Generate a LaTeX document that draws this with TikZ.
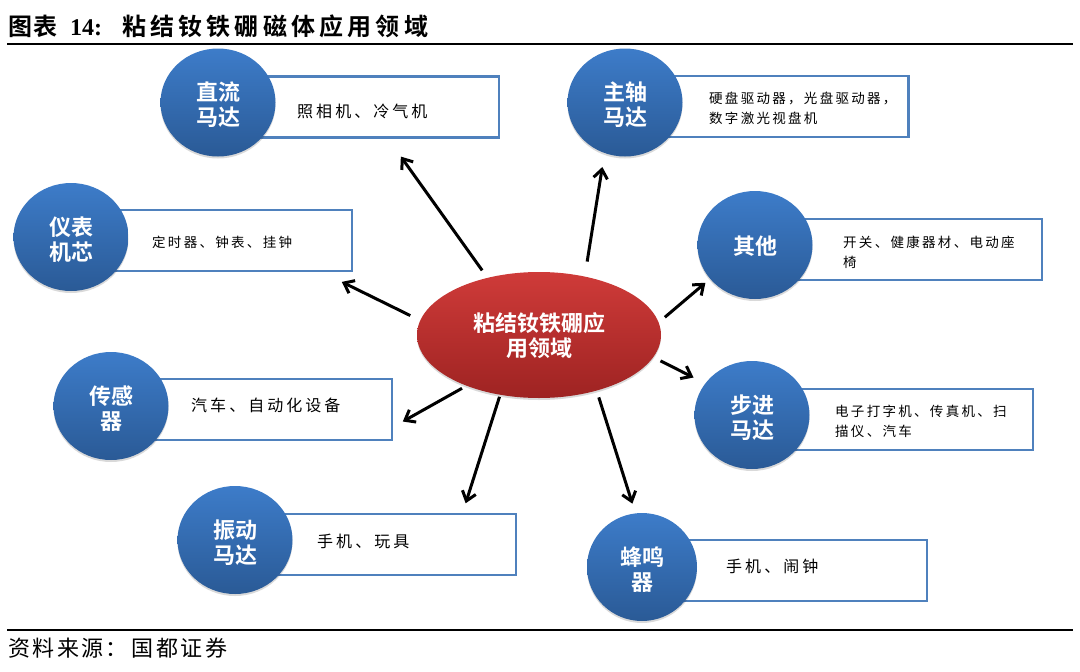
\documentclass[tikz,border=0pt]{standalone}
\usepackage{fontspec}
\usepackage{xcolor}
\setmainfont{Noto Sans CJK SC}[BoldFont=Noto Sans CJK SC Bold]
\newfontfamily\latinfont{Liberation Serif}
\newfontfamily\widefont[LetterSpace=19]{Noto Sans CJK SC}
\newfontfamily\narrowfont[LetterSpace=17]{Noto Sans CJK SC}
\newfontfamily\titlefont[LetterSpace=17.5,BoldFont=Noto Sans CJK SC Bold]{Noto Sans CJK SC}
\newfontfamily\notefont[LetterSpace=11]{Noto Sans CJK SC}
\usetikzlibrary{arrows.meta, positioning, calc, shapes.geometric, shadows}
\definecolor{bandblue}{HTML}{4F81BD}
\definecolor{ballhigh}{HTML}{3D7CC9}
\definecolor{balllow}{HTML}{2A5A96}
\definecolor{hubhigh}{HTML}{CF3B39}
\definecolor{hublow}{HTML}{9E2322}
\newcommand{\topgap}{\rule{0pt}{24pt}}
\newcommand{\smallgap}{\rule{0pt}{20pt}}
\newcommand{\widecomma}{\symbol{"FF0C}}
\newcommand{\widecolon}{\symbol{"FF1A}}

\begin{document}
\begin{tikzpicture}[
    x=1pt, y=-1pt,
    ball/.style={ellipse, draw=none, inner sep=0pt, minimum width=115pt, minimum height=108pt, top color=ballhigh, bottom color=balllow, text=white, align=center, font=\fontsize{22}{25}\selectfont\bfseries, drop shadow={shadow xshift=0pt, shadow yshift=-2pt, opacity=.15, fill=black}},
    hub/.style={ellipse, draw=none, inner sep=0pt, minimum width=244pt, minimum height=126pt, top color=hubhigh, bottom color=hublow, text=white, align=center, font=\fontsize{22}{25}\selectfont\bfseries, drop shadow={shadow xshift=0pt, shadow yshift=-2pt, opacity=.15, fill=black}},
    band/.style={rectangle, draw=bandblue, line width=2.4pt, fill=white, minimum width=281pt, minimum height=61pt},
    bigtext/.style={anchor=west, inner sep=0pt, align=left, font=\fontsize{16}{20}\widefont},
    smalltext/.style={anchor=west, inner sep=0pt, align=left, font=\fontsize{13.5}{20}\narrowfont},
    rulebar/.style={line width=2.4pt, black},
    line/.style={draw, -{Straight Barb[length=9pt, width=14pt]}, line width=3pt, black}
]
    \useasboundingbox (0,0) rectangle (1080,672);

    \node [anchor=west, inner sep=0pt, font=\fontsize{24}{28}\titlefont\bfseries] (title) at (8,26) {{\addfontfeature{LetterSpace=4}图表}\hspace{13pt}{\latinfont\addfontfeature{LetterSpace=0}14:}\hspace{20pt}粘结钕铁硼磁体应用领域};
    \coordinate (topleft) at (7,44);
    \coordinate (topright) at (1073,44);
    \draw [rulebar] (topleft) -- (topright);
    \coordinate (lowleft) at (7,630);
    \coordinate (lowright) at (1073,630);
    \draw [rulebar] (lowleft) -- (lowright);
    \node [anchor=west, inner sep=0pt, font=\fontsize{22}{26}\notefont] (source) at (8,648) {资料来源\widecolon\hspace{4pt}国都证券};

    % bands sit under the balls
    \node [band] (dcband) at (358.5,107) {};
    \node [band] (spindleband) at (768,106.5) {};
    \node [band] (meterband) at (211.5,240.5) {};
    \node [band] (otherband) at (901.5,249.5) {};
    \node [band] (sensorband) at (251.5,409.5) {};
    \node [band] (stepband) at (892.5,419.5) {};
    \node [band] (vibband) at (375.5,544.5) {};
    \node [band] (buzzband) at (786.5,570.5) {};

    \node [ball] (dc) at (218,102.5) {\topgap 直流\\马达};
    \node [ball] (spindle) at (625,102.5) {\topgap 主轴\\马达};
    \node [ball] (meter) at (71,237) {\topgap 仪表\\机芯};
    \node [ball] (other) at (755,245) {\smallgap 其他};
    \node [ball] (sensor) at (111,406) {\topgap 传感\\器};
    \node [ball] (step) at (752,415) {\topgap 步进\\马达};
    \node [ball] (vib) at (235,540) {\topgap 振动\\马达};
    \node [ball, minimum width=110pt] (buzz) at (642,567) {\topgap 蜂鸣\\器};

    \node [hub] (core) at (539,335) {\smallgap 粘结钕铁硼应\\用领域};

    \node [bigtext] (dctext) at (297,111) {照相机、冷气机};
    \node [smalltext] (spindletext) at (709,108) {硬盘驱动器\widecomma 光盘驱动器\widecomma\\数字激光视盘机};
    \node [smalltext] (metertext) at (152,242) {定时器、钟表、挂钟};
    \node [smalltext] (othertext) at (843,252) {开关、健康器材、电动座\\椅};
    \node [bigtext] (sensortext) at (191,405) {汽车、自动化设备};
    \node [smalltext] (steptext) at (835,421) {电子打字机、传真机、扫\\描仪、汽车};
    \node [bigtext] (vibtext) at (317,541) {手机、玩具};
    \node [bigtext] (buzztext) at (726,566) {手机、闹钟};

    \draw [line, shorten <=9pt, shorten >=22pt] (core.132) -- (dcband.-47.4);
    \draw [line, shorten <=15pt, shorten >=14pt] (core.52) -- (spindle.248.5);
    \draw [line, shorten <=11pt, shorten >=22pt] (core.173) -- (meterband.-16);
    \draw [line, shorten <=8pt, shorten >=6pt] (core.6.2) -- (other.217.7);
    \draw [line, shorten <=5pt, shorten >=11pt] (core.215) -- (sensorband.-7.8);
    \draw [line, shorten <=8pt, shorten >=13pt] (core.-11.5) -- (step.146.3);
    \draw [line, shorten <=2pt, shorten >=10pt] (core.237) -- (vibband.20.6);
    \draw [line, shorten <=7pt, shorten >=10pt] (core.-44) -- (buzz.97.4);

\end{tikzpicture}
\end{document}
